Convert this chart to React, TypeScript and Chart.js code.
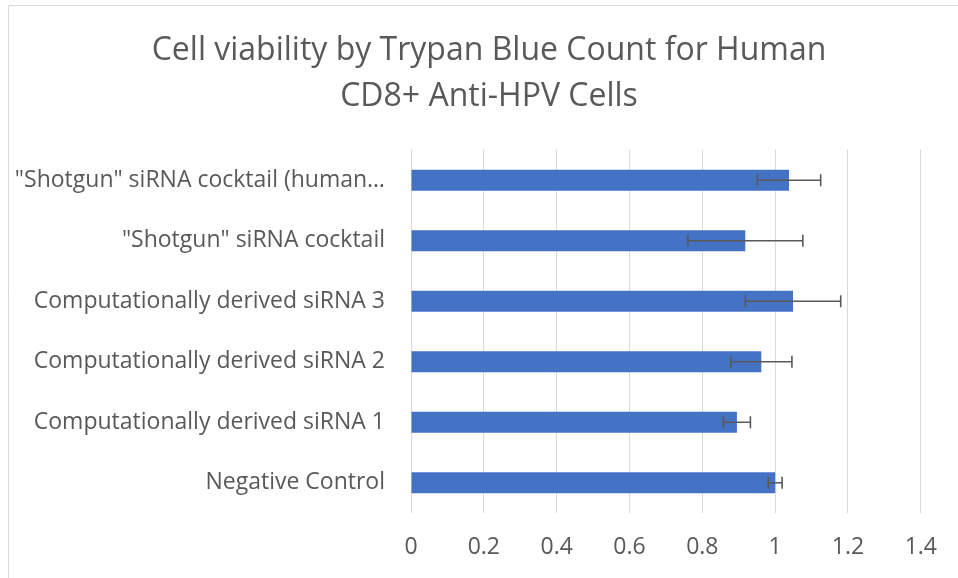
import React, { useEffect, useRef } from "react";
import { Chart, registerables } from "chart.js";

Chart.register(...registerables);

const categories = [
  "Negative Control",
  "Computationally derived siRNA 1",
  "Computationally derived siRNA 2",
  "Computationally derived siRNA 3",
  "\"Shotgun\" siRNA cocktail",
  "\"Shotgun\" siRNA cocktail (human…",
];
const viability = [1.0, 0.895, 0.962, 1.049, 0.918, 1.038];
const errors = [0.019, 0.037, 0.084, 0.131, 0.158, 0.087];
const xTicks = [0, 0.2, 0.4, 0.6, 0.8, 1, 1.2, 1.4];
const titleLines = ["Cell viability by Trypan Blue Count for Human", "CD8+ Anti-HPV Cells"];

const FONT = "'Open Sans', sans-serif";

const errorBarPlugin = {
  id: "errorBars",
  afterDatasetsDraw(chart: any) {
    const ctx = chart.ctx;
    const xs = chart.scales.x;
    const ys = chart.scales.y;
    ctx.save();
    ctx.strokeStyle = "#595959";
    ctx.lineWidth = 1.6;
    viability.forEach((v, i) => {
      const y = ys.getPixelForValue(i);
      const x1 = xs.getPixelForValue(v - errors[i]);
      const x2 = xs.getPixelForValue(v + errors[i]);
      ctx.beginPath();
      ctx.moveTo(x1, y);
      ctx.lineTo(x2, y);
      ctx.moveTo(x1, y - 6);
      ctx.lineTo(x1, y + 6);
      ctx.moveTo(x2, y - 6);
      ctx.lineTo(x2, y + 6);
      ctx.stroke();
    });
    ctx.restore();
  },
};

const framePlugin = {
  id: "frame",
  beforeDraw(chart: any) {
    const ctx = chart.ctx;
    ctx.save();
    ctx.fillStyle = "#ffffff";
    ctx.fillRect(0, 0, chart.width, chart.height);
    ctx.strokeStyle = "#D9D9D9";
    ctx.lineWidth = 1;
    ctx.beginPath();
    ctx.moveTo(8.5, chart.height + 2);
    ctx.lineTo(8.5, 5.5);
    ctx.lineTo(chart.width + 2, 5.5);
    ctx.stroke();
    // title
    ctx.fillStyle = "#595959";
    ctx.font = "32px " + FONT;
    ctx.textAlign = "center";
    ctx.textBaseline = "middle";
    const cx = (8 + chart.width + 12) / 2;
    titleLines.forEach((line, i) => {
      ctx.fillText(line, cx, 51 + i * 46);
    });
    ctx.restore();
  },
};

export default function App() {
  const ref = useRef<HTMLCanvasElement>(null);
  useEffect(() => {
    const chart = new Chart(ref.current!, {
      type: "bar",
      data: {
        labels: categories,
        datasets: [
          {
            data: viability,
            backgroundColor: "#4472C4",
            borderWidth: 0,
            barPercentage: 0.35,
            categoryPercentage: 1,
          },
        ],
      },
      options: {
        indexAxis: "y",
        animation: false,
        responsive: false,
        layout: { padding: { left: 0, right: 35, top: 150, bottom: 0 } },
        plugins: {
          legend: { display: false },
          tooltip: { enabled: false },
          title: { display: false },
        },
        scales: {
          x: {
            min: 0,
            max: 1.4,
            afterBuildTicks(scale: any) {
              scale.ticks = xTicks.map((v) => ({ value: v }));
            },
            afterFit(scale: any) {
              scale.height = 65;
            },
            grid: { color: "#D9D9D9", drawTicks: false, lineWidth: 1 },
            border: { display: false },
            ticks: {
              color: "#595959",
              font: { family: FONT, size: 23 },
              padding: 21,
              callback: (v: any) => String(Math.round(Number(v) * 10) / 10),
            },
          },
          y: {
            reverse: true,
            afterFit(scale: any) {
              scale.width = 411;
            },
            grid: { display: false, drawTicks: false },
            border: { display: false },
            ticks: {
              color: "#595959",
              font: { family: FONT, size: 23 },
              padding: 26,
            },
          },
        },
      },
      plugins: [framePlugin, errorBarPlugin],
    });
    return () => chart.destroy();
  }, []);
  return (
    <div style={{ position: "fixed", left: 0, top: 0, width: 958, height: 578 }}>
      <canvas ref={ref} width={958} height={578} />
    </div>
  );
}
